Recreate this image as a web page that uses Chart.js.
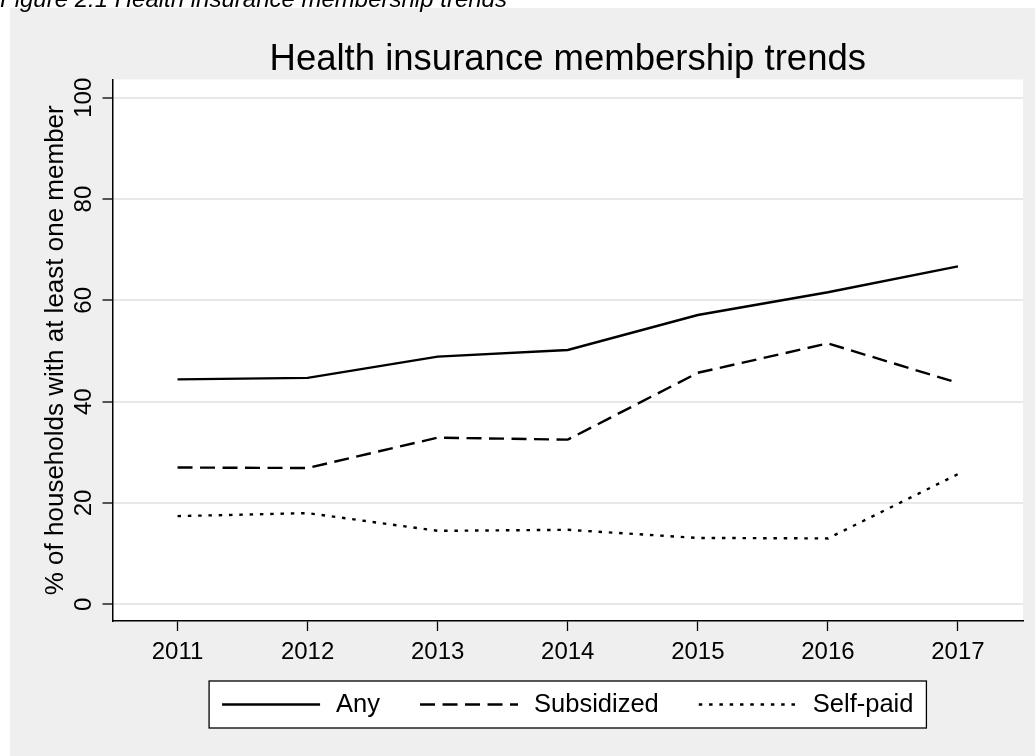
<!DOCTYPE html>
<html>
<head>
<meta charset="utf-8">
<title>Health insurance membership trends</title>
<script src="https://cdn.jsdelivr.net/npm/chart.js@4.4.1/dist/chart.umd.min.js"></script>
<style>
  html, body { margin: 0; padding: 0; background: #fff; }
  #wrap { width: 1035px; height: 756px; }
</style>
</head>
<body>
<div id="wrap"><canvas id="membershipChart" width="1035" height="756"></canvas></div>
<script>
// Share of households with at least one insured member, by year
const years = ['2011', '2012', '2013', '2014', '2015', '2016', '2017'];
const anyMember = [44.4, 44.7, 48.9, 50.2, 57.1, 61.6, 66.7];
const subsidized = [27.0, 26.9, 32.9, 32.5, 45.7, 51.5, 43.7];
const selfPaid = [17.4, 18.0, 14.5, 14.7, 13.1, 13.0, 25.7];
const yTicks = [0, 20, 40, 60, 80, 100];

const captionText = 'Figure 2.1 Health insurance membership trends';
const chartTitle = 'Health insurance membership trends';

const FONT = "'Liberation Sans', Arial, Helvetica, sans-serif";
Chart.defaults.font.family = FONT;
Chart.defaults.color = '#000';

// Gray panel, white plot region and the figure caption above it
const backdrop = {
    id: 'backdrop',
    beforeDraw(chart) {
        const { ctx, chartArea: a } = chart;
        ctx.save();
        ctx.fillStyle = '#ffffff';
        ctx.fillRect(0, 0, chart.width, chart.height);
        ctx.fillStyle = '#efefef';
        ctx.fillRect(10, 8, chart.width - 10, chart.height - 8);
        ctx.fillStyle = '#ffffff';
        ctx.fillRect(a.left, a.top, a.right - a.left, a.bottom - a.top);
        ctx.fillStyle = '#000';
        ctx.font = 'italic 24px ' + FONT;
        ctx.textBaseline = 'alphabetic';
        ctx.fillText(captionText, 0, 6.5);
        ctx.restore();
    }
};

// Title centred over the plot region
const plotTitle = {
    id: 'plotTitle',
    afterDraw(chart) {
        const { ctx, chartArea: a } = chart;
        ctx.save();
        ctx.fillStyle = '#000';
        ctx.font = '36.5px ' + FONT;
        ctx.textAlign = 'center';
        ctx.textBaseline = 'alphabetic';
        ctx.fillText(chartTitle, (a.left + a.right) / 2, 69.5);
        ctx.restore();
    }
};

// Boxed legend in one row under the x axis
const boxLegend = {
    id: 'boxLegend',
    afterDraw(chart) {
        const { ctx, chartArea: a } = chart;
        const items = chart.data.datasets;
        const pad = 13, sample = 98, textGap = 16, itemGap = 40;
        const top = 681, h = 47;
        ctx.save();
        ctx.font = '25.5px ' + FONT;
        const widths = items.map(d => ctx.measureText(d.label).width);
        const total = pad * 2 + items.length * (sample + textGap) +
            itemGap * (items.length - 1) + widths.reduce((s, w) => s + w, 0);
        let x = (a.left + a.right) / 2 - total / 2;
        ctx.fillStyle = '#fff';
        ctx.fillRect(x, top, total, h);
        ctx.strokeStyle = '#000';
        ctx.lineWidth = 1.3;
        ctx.strokeRect(x, top, total, h);
        const midY = top + h / 2;
        x += pad;
        items.forEach((d, i) => {
            ctx.beginPath();
            ctx.setLineDash(d.borderDash || []);
            ctx.lineWidth = d.borderWidth;
            ctx.strokeStyle = d.borderColor;
            ctx.moveTo(x, midY);
            ctx.lineTo(x + sample, midY);
            ctx.stroke();
            ctx.setLineDash([]);
            x += sample + textGap;
            ctx.fillStyle = '#000';
            ctx.textBaseline = 'middle';
            ctx.fillText(d.label, x, midY);
            x += widths[i] + itemGap;
        });
        ctx.restore();
    }
};

const ctx = document.getElementById('membershipChart').getContext('2d');
new Chart(ctx, {
    type: 'line',
    data: {
        labels: years,
        datasets: [
            { label: 'Any', data: anyMember, borderColor: '#000', borderWidth: 2.4, borderDash: [], pointRadius: 0 },
            { label: 'Subsidized', data: subsidized, borderColor: '#000', borderWidth: 2.4, borderDash: [15, 7.5], pointRadius: 0 },
            { label: 'Self-paid', data: selfPaid, borderColor: '#000', borderWidth: 2.4, borderDash: [3.5, 6.8], pointRadius: 0 }
        ]
    },
    options: {
        responsive: false,
        animation: false,
        devicePixelRatio: 1,
        tension: 0,
        layout: { padding: { left: 10, top: 79.5, right: 12, bottom: 85 } },
        plugins: {
            legend: { display: false },
            title: { display: false },
            tooltip: { enabled: false }
        },
        scales: {
            x: {
                type: 'category',
                offset: true,
                grid: { offset: false, drawOnChartArea: false, drawTicks: true, tickLength: 10, tickColor: '#000', tickWidth: 1.3 },
                border: { display: true, color: '#000', width: 1.5 },
                ticks: { color: '#000', font: { size: 24 }, padding: 7, maxRotation: 0, autoSkip: false },
                afterFit(scale) { scale.height = 50; }
            },
            y: {
                min: -3.3,
                max: 103.6,
                afterBuildTicks(scale) { scale.ticks = yTicks.map(v => ({ value: v })); },
                grid: { color: '#e8e8e8', lineWidth: 2, tickLength: 10, tickColor: '#000', tickWidth: 1.3 },
                border: { color: '#000', width: 1.5 },
                ticks: { color: '#000', font: { size: 24 }, minRotation: 90, maxRotation: 90, crossAlign: 'center', padding: -1.5, autoSkip: false },
                title: {
                    display: true,
                    text: '% of households with at least one member',
                    color: '#000',
                    font: { size: 26 },
                    padding: { top: 30, bottom: 0 }
                },
                afterFit(scale) { scale.width = 102.5; }
            }
        }
    },
    plugins: [backdrop, plotTitle, boxLegend]
});
</script>
</body>
</html>
